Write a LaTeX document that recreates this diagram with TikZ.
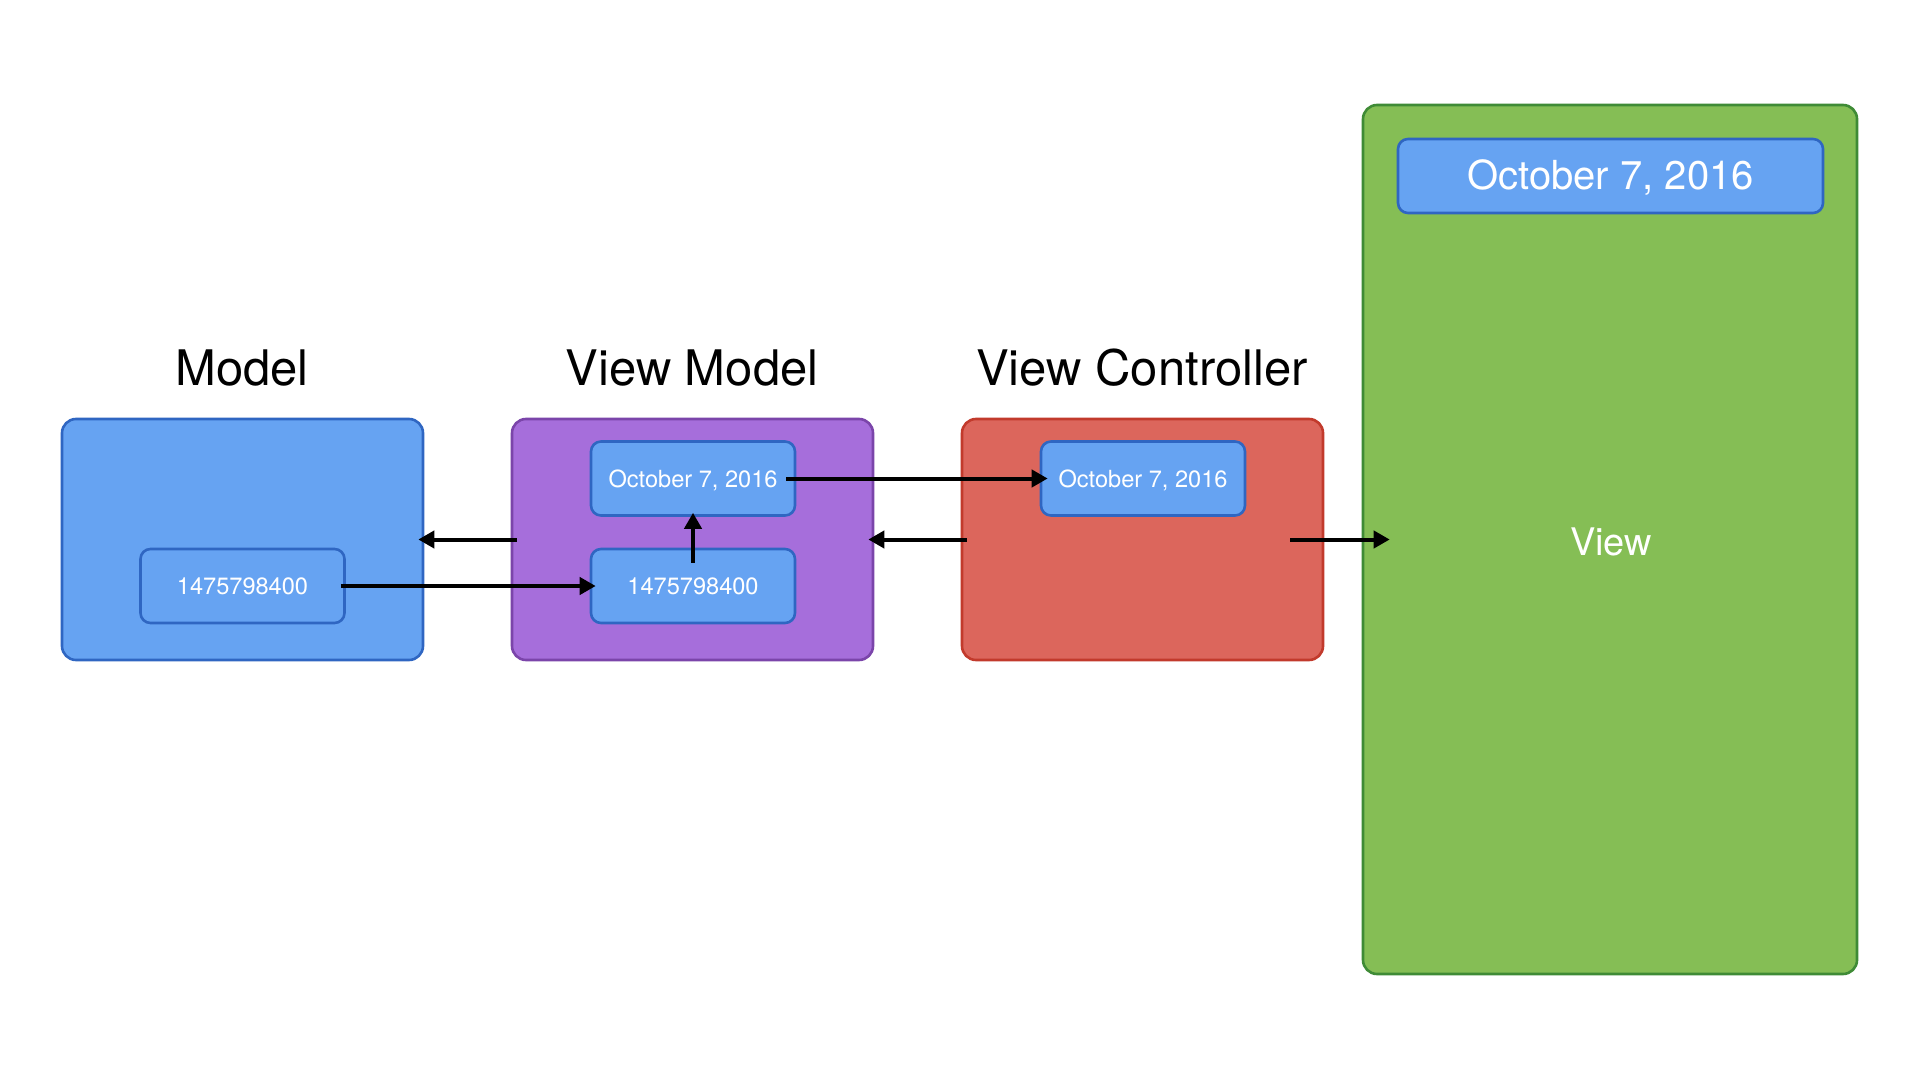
\documentclass[tikz,border=0pt]{standalone}
\usepackage{fontspec}
\setmainfont{TeX Gyre Heros}
\usetikzlibrary{arrows.meta,calc}
\definecolor{bluefill}{HTML}{66A3F2}
\definecolor{blueline}{HTML}{2F66C2}
\definecolor{purplefill}{HTML}{A66EDB}
\definecolor{purpleline}{HTML}{7B45AA}
\definecolor{redfill}{HTML}{DC665C}
\definecolor{redline}{HTML}{C23A2C}
\definecolor{greenfill}{HTML}{85BE55}
\definecolor{greenline}{HTML}{3F8B36}
\tikzset{
  bigbox/.style={draw, line width=1.3pt, rounded corners=7pt, minimum width=180.5pt, minimum height=120.5pt, inner sep=0pt},
  smallbox/.style={draw=blueline, fill=bluefill, line width=1.3pt, rounded corners=5pt, minimum width=102pt, minimum height=37pt, inner sep=0pt, text=white, font=\fontsize{11.8}{14}\selectfont, text height=8.5pt, text depth=0pt},
  title/.style={anchor=base, font=\fontsize{24.5}{29}\selectfont},
  arr/.style={-{Triangle[length=8pt,width=8.5pt]}, line width=2pt, black}
}
\begin{document}
\begin{tikzpicture}[x=0.5pt,y=-0.5pt]
\useasboundingbox (0,0) rectangle (1920,1080);
% big boxes
\node[bigbox, draw=blueline, fill=bluefill] (model) at (242.5,539.5) {};
\node[bigbox, draw=purpleline, fill=purplefill] (vm) at (692.5,539.5) {};
\node[bigbox, draw=redline, fill=redfill] (vc) at (1142.5,539.5) {};
\node[draw=greenline, fill=greenfill, line width=1.3pt, rounded corners=7pt, minimum width=247pt, minimum height=434.5pt, inner sep=0pt] (view) at (1610,539.5) {};
% titles
\node[title] (tmodel) at (242,386) {Model};
\node[title] (tvm) at (692,386) {View Model};
\node[title] (tvc) at (1142,386) {View Controller};
% inner boxes
\node[smallbox] (mnum) at (242.5,586) {1475798400};
\node[smallbox] (vmdate) at (693,478.5) {October 7, 2016};
\node[smallbox] (vmnum) at (693,586) {1475798400};
\node[smallbox] (vcdate) at (1143,478.5) {October 7, 2016};
\node[draw=blueline, fill=bluefill, line width=1.3pt, rounded corners=5pt, minimum width=212.5pt, minimum height=37pt, inner sep=0pt, text=white, font=\fontsize{20}{24}\selectfont, text depth=0pt, text height=14pt] (viewdate) at (1610.5,176) {October 7, 2016};
\node[text=white, font=\fontsize{19}{23}\selectfont] (viewlabel) at (1611,542) {View};
% arrows
\draw[arr] ([xshift=3pt]vm.west) -- ([xshift=-3pt]model.east);
\draw[arr] ([xshift=-2.5pt]mnum.east) -- ([xshift=3pt]vmnum.west);
\draw[arr] ([yshift=-7.5pt]vmnum.north) -- ([yshift=2pt]vmdate.south);
\draw[arr] ([xshift=-5pt]vmdate.east) -- ([xshift=4pt]vcdate.west);
\draw[arr] ([xshift=3pt]vc.west) -- ([xshift=-3pt]vm.east);
\draw[arr] ([xshift=-17pt]vc.east) -- ([xshift=14pt]view.west);
\end{tikzpicture}
\end{document}
